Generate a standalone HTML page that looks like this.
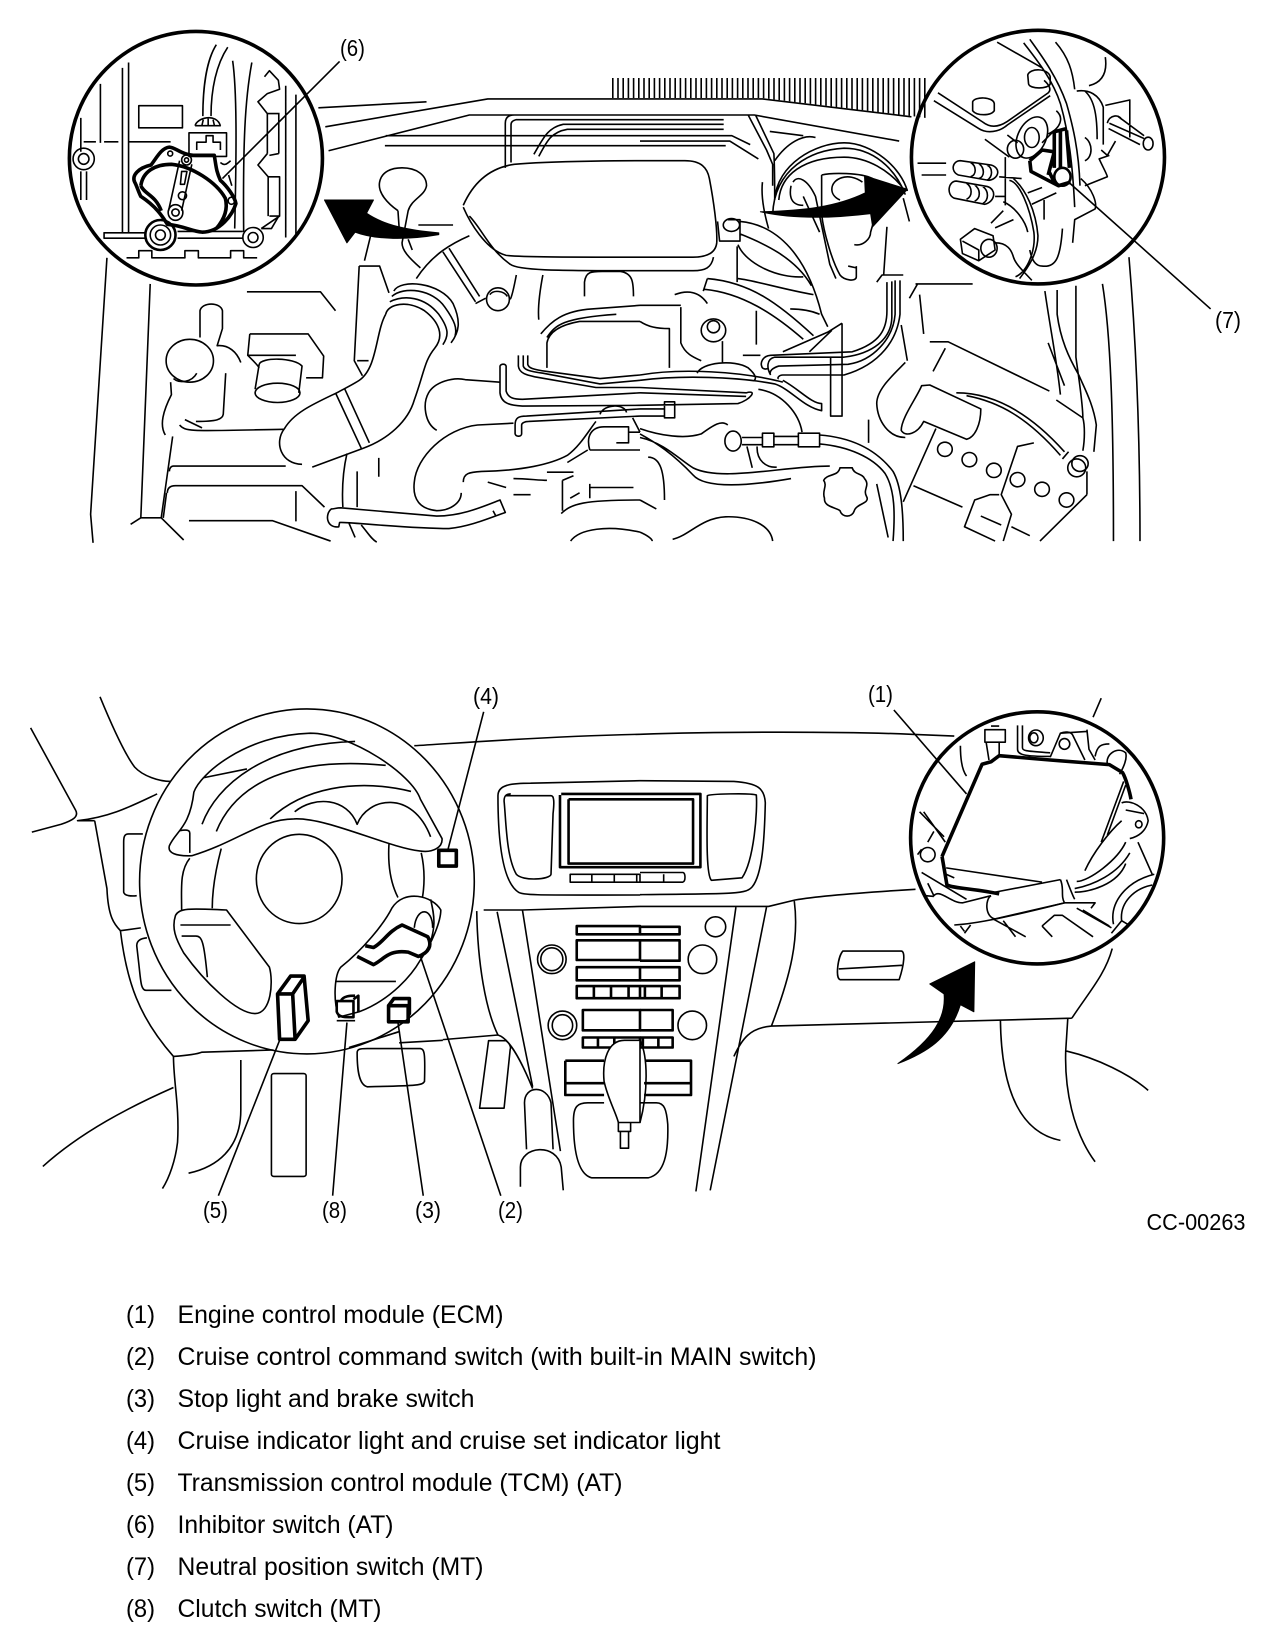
<!DOCTYPE html>
<html><head><meta charset="utf-8"><style>
html,body{margin:0;padding:0;background:#fff}
svg{display:block}
path,ellipse,rect{vector-effect:non-scaling-stroke;fill:none;stroke:#000;stroke-width:1.6;stroke-linejoin:round}
.t{stroke-width:3.6}
.m{stroke-width:2.6}
.f{fill:#000;stroke:#000;stroke-width:1}
text{font-family:"Liberation Sans",sans-serif;fill:#000}
</style></head><body>
<svg width="1280" height="1650" viewBox="0 0 1280 1650" xmlns="http://www.w3.org/2000/svg">
<defs><clipPath id="sl"><polygon points="612,78 926,78 926,118 911,116 762,98 612,98"/></clipPath></defs>
<path clip-path="url(#sl)" d="M612 100H926" style="stroke-width:46;stroke-dasharray:1.6 3.6"/>

<!-- ENGINE LEFT -->
<g transform="translate(0,0) scale(.40816,.35714)">
<ellipse class="t" cx="480" cy="443" rx="310" ry="355"/>
<path d="M315 175V650M300 190V650M246 235V400M198 330V425M198 480V560M212 480V560M205 397H235M255 397H290M315 397H418M340 296H447V358H340ZM530 125C505 170 497 250 497 325M558 132C530 180 517 250 517 325M478 352C482 330 530 315 540 352M478 352H541M463 372H555V438H463ZM482 420V398H505V380H522V398H540V420M495 350L498 335M510 350V332M525 350L522 335M570 170C580 250 580 400 575 640M617 175C600 280 595 400 597 650"/>
<path d="M648 215L660 198L682 225L685 250L655 262L632 285L655 318H685M655 318V430M683 318V430M655 430L632 462L657 495V605M683 430L660 435M657 495H685V605L640 640M660 605H683L665 640H640M700 240V665M725 265V660M255 650V667H355M435 667H595M255 652H355M435 648H595"/>
<ellipse cx="393" cy="658" rx="37" ry="42" class="m"/><ellipse cx="393" cy="658" rx="25" ry="28"/><ellipse cx="393" cy="658" rx="12" ry="14"/>
<ellipse cx="620" cy="665" rx="25" ry="28"/><ellipse cx="620" cy="665" rx="12" ry="14"/>
<ellipse cx="205" cy="445" rx="26" ry="30"/><ellipse cx="205" cy="445" rx="13" ry="15"/>
<path d="M310 722H340V702H372V722H453V702H486V722H565V702H597V722H630"/>
<path class="t" d="M330 510C322 490 340 470 370 462C385 440 395 415 415 412C430 412 445 435 480 435H525C530 470 530 480 540 505C555 520 575 550 578 570C570 600 540 650 495 650C470 648 450 632 410 628C400 610 385 580 345 550C340 540 335 520 330 510Z"/>
<path class="t" d="M345 520C350 480 380 460 420 460C470 465 530 510 552 555C560 590 545 620 530 640M345 520C355 545 380 545 395 590"/>
<path d="M440 450L413 590M470 460L445 590M445 480H458L452 516H442ZM540 455C550 465 555 460 565 450M560 490L568 520"/>
<ellipse cx="430" cy="595" rx="18" ry="22"/><ellipse cx="430" cy="595" rx="9" ry="10"/><ellipse cx="457" cy="448" rx="12" ry="14"/><ellipse cx="457" cy="448" rx="5" ry="6"/><ellipse cx="447" cy="548" rx="10" ry="11"/><ellipse cx="417" cy="430" rx="6" ry="7"/><ellipse cx="567" cy="562" rx="8" ry="10"/>
<path d="M832 172L545 500"/>
<path d="M780 302L1045 285M797 355L1195 277H1568M805 422L1150 322H1568M945 380H1568M943 408H1568M1238 470V345C1238 330 1245 322 1260 322M1252 455V350C1252 342 1255 338 1265 335H1568M1308 432C1330 390 1340 358 1380 348H1568M1320 438C1340 395 1350 370 1390 362H1568"/>
<path d="M1135 575C1160 510 1200 470 1260 460C1350 450 1568 450 1568 450M1135 580C1150 620 1190 700 1240 715C1270 720 1400 720 1568 720M1150 605C1180 640 1200 700 1250 740C1270 757 1350 758 1568 758"/>
<path d="M1150 660C1110 680 1060 710 1020 780M1085 705L1165 845M1100 695L1175 830M1165 850L1190 835M965 815C980 780 1080 790 1110 850C1130 900 1125 930 1105 960M960 830C990 800 1060 810 1090 860C1115 900 1120 920 1115 940M955 845C990 825 1040 830 1075 880C1100 920 1100 940 1085 965M945 880C950 850 1000 840 1040 870C1075 900 1090 940 1065 975M945 880C920 930 925 1030 880 1065C860 1080 840 1090 825 1100C770 1130 720 1155 697 1200C670 1240 690 1300 740 1300M1065 975C1040 1010 1040 1040 1015 1120C1000 1180 950 1230 890 1255L765 1308M822 1100L885 1255M845 1090L905 1240"/>
<ellipse cx="1220" cy="838" rx="28" ry="32"/>
<path d="M1200 825C1210 810 1235 815 1243 830M1265 770C1260 800 1255 830 1250 838M1330 770C1320 830 1318 870 1320 895M1432 830V790C1435 760 1450 760 1475 760H1520C1550 765 1552 790 1552 830"/>
<path d="M975 590C950 570 925 540 930 510C935 480 960 470 985 470C1020 470 1045 490 1045 520C1040 550 1010 555 1000 590L985 680C985 700 1000 720 1030 750M975 590L978 640M1000 670L1010 700M1025 630H1110"/>
<path class="f" d="M795 560L915 560L898 597C940 630 1000 645 1075 652L1075 657C1000 672 920 672 870 650L850 680Z"/>
<path d="M262 722L222 1440L228 1520M368 795L345 1450M345 1450L320 1468M345 1450H395L450 1512M395 1450L423 1222M605 817H785L822 870M893 730L908 660M880 745H930L953 820M880 745L868 1010L888 1052M875 1010H903"/>
<ellipse cx="465" cy="1010" rx="58" ry="60"/>
<path d="M490 945V870C495 845 540 845 545 870L545 920L532 968C560 965 580 985 590 1015M425 1060C440 1075 470 1070 482 1045M418 1070L420 1105C400 1150 390 1190 405 1218M553 1045L547 1160C545 1175 530 1180 480 1180M453 1175L495 1198M440 1190C455 1210 470 1207 695 1202"/>
<path d="M612 935H755L793 997L790 1058H750M612 935L607 995H725M607 995C620 1010 630 1020 635 1030M635 1020C640 1000 720 1000 740 1025L732 1100M635 1020L625 1090"/>
<ellipse cx="680" cy="1100" rx="55" ry="27"/>
<path d="M425 1305H700M415 1320C415 1310 420 1305 425 1305M410 1380C410 1365 418 1360 430 1360H740L795 1420M408 1380L400 1450M725 1375V1460M463 1458H668L810 1515M928 1282V1335M850 1270C838 1330 838 1380 840 1420M875 1320V1420"/>
<path d="M812 1425C795 1440 800 1480 830 1475L832 1463C840 1460 1000 1480 1100 1480C1150 1475 1200 1450 1238 1435L1225 1400C1180 1420 1130 1445 1070 1445L835 1422C825 1422 818 1425 812 1425ZM1208 1430L1215 1445M855 1465L870 1505M885 1470C900 1490 910 1510 923 1518"/>
<path d="M1070 1205C1040 1185 1035 1130 1050 1100C1065 1070 1110 1055 1140 1063L1225 1070M1130 1380C1130 1410 1100 1430 1070 1430C1030 1425 1010 1400 1015 1350C1020 1280 1090 1200 1170 1190L1258 1185M1135 1350C1135 1325 1150 1322 1180 1320C1280 1318 1350 1300 1390 1275C1420 1250 1440 1210 1460 1180"/>
<path d="M1225 1070V1025C1228 1018 1238 1018 1240 1025V1095C1245 1115 1260 1118 1280 1118L1568 1100M1225 1070V1100C1228 1130 1250 1135 1280 1137L1568 1135M1270 995V1025C1272 1045 1290 1050 1310 1055L1460 1085L1568 1085M1282 995V1025C1285 1035 1295 1040 1330 1045L1470 1075L1568 1065M1293 995V1020C1295 1030 1305 1035 1340 1040L1470 1060L1568 1050M1340 1030V960C1345 930 1370 910 1420 900L1568 900M1325 935C1350 900 1380 870 1450 865L1568 855M1340 945C1360 910 1380 890 1510 880"/>
<path d="M1262 1190C1262 1170 1270 1165 1290 1165L1568 1145M1262 1190V1215C1265 1225 1278 1222 1278 1215V1190C1278 1185 1285 1180 1295 1180L1568 1165M1470 1160C1480 1130 1530 1130 1535 1155M1445 1260C1435 1220 1450 1195 1480 1195H1540V1240H1510M1445 1260H1568M1550 1170L1568 1210M1540 1210H1568M1390 1295L1440 1260M1258 1340C1290 1340 1320 1345 1340 1345M1340 1322H1405M1195 1350L1240 1365M1258 1385H1300M1378 1345V1430M1378 1345L1405 1332M1375 1438C1400 1410 1430 1400 1568 1400M1445 1355V1395M1445 1365H1552M1397 1395L1420 1380M1398 1515C1420 1480 1490 1470 1568 1490"/>
</g>

<!-- ENGINE RIGHT -->
<g transform="translate(640,0) scale(.40816,.35714)">
<ellipse class="t" cx="975" cy="440" rx="310" ry="355"/>
<path d="M0 277H300L665 327M0 322H280L635 395M0 335H205M0 348H205M0 362H205M0 380H225L270 405M0 395H220L290 445M0 408H210M265 322L310 420L325 460V520M283 322L328 430C330 470 330 520 330 560M318 368L400 380M330 450C360 400 400 375 430 385"/>
<path d="M330 560C335 460 430 400 500 400C570 400 640 470 655 535M325 600C330 470 420 420 500 415C570 415 625 470 650 545M340 560C345 490 400 440 500 440C560 440 610 480 640 520M300 510C295 560 310 620 315 640M375 510C385 490 410 500 430 550L465 740L480 780M370 520C365 550 370 575 400 575M400 550L440 650M445 490C470 483 540 483 570 500M445 490V600C450 650 470 730 490 770C500 785 530 790 530 775V745M510 745L530 750M525 685C545 690 565 670 565 650L570 630M470 530C470 500 510 480 545 510M490 560C480 555 470 545 470 530"/>
<path class="f" d="M295 593C400 590 480 580 552 540L550 492L655 530L570 635L565 598C480 610 380 615 295 593Z"/>
<path d="M645 555L660 620M605 635L597 770M580 790L593 770H645M605 790V870C605 920 590 960 520 985L320 995C300 997 295 1015 298 1025C300 1035 310 1035 315 1030M617 788V890C615 950 570 990 500 1000H330C310 1005 310 1030 320 1050M625 785V880C620 950 570 1010 510 1020L340 1025C325 1030 315 1040 320 1050M637 785V880C630 950 590 1020 500 1050H350C340 1050 335 1060 340 1060"/>
<path d="M675 795H815M660 835L680 795M685 825L695 935M640 910L655 1010M650 1015C620 1050 580 1090 580 1130C582 1180 610 1225 650 1225M710 957H755L1003 1095M748 975L718 1040M690 1080L710 1078L835 1145C835 1190 820 1225 800 1230L695 1180C680 1215 650 1225 640 1205C640 1170 680 1110 690 1080ZM775 1100C860 1100 950 1150 1040 1265M800 1108C880 1125 950 1170 1030 1275M725 1200L645 1405M670 1360L790 1420M560 1175V1240"/>
<ellipse cx="747" cy="1258" rx="18" ry="20"/><ellipse cx="807" cy="1287" rx="18" ry="20"/><ellipse cx="867" cy="1317" rx="18" ry="20"/><ellipse cx="925" cy="1343" rx="18" ry="20"/><ellipse cx="985" cy="1370" rx="18" ry="20"/><ellipse cx="1045" cy="1400" rx="18" ry="20"/>
<path d="M965 1240L925 1250L885 1385L910 1440L890 1515M880 1385H858L820 1400L795 1475L870 1515M835 1445L885 1470M910 1475L955 1500M1095 1385L980 1515M1095 1320V1385"/>
<ellipse cx="1078" cy="1298" rx="20" ry="22"/><ellipse cx="1070" cy="1310" rx="22" ry="25"/>
<path d="M1050 1265L1035 1285M992 815C1005 920 1020 1000 1030 1105M1022 812V880C1030 950 1050 1000 1075 1050C1090 1090 1110 1130 1118 1190L1112 1265M1068 800V1000C1075 1060 1085 1130 1085 1170M1020 1120L1085 1170M1085 1170C1090 1190 1090 1230 1085 1262M1133 795C1155 950 1160 1200 1160 1515M1198 720C1215 950 1225 1200 1225 1515M1000 960L1040 1080M1398 865L1050 510"/>
<path d="M215 615H245V675H195L190 620M245 620C340 630 410 720 445 880L460 915M245 655C300 680 380 720 420 800M240 685C260 740 340 780 400 775M238 690V790M165 780L155 815M85 825C115 812 145 815 165 850M0 855H100M100 860V960C110 990 130 1000 150 1010M165 780C270 790 340 850 425 940M158 810C250 820 330 880 400 950M285 870V965M368 865C400 865 420 870 440 880M240 780C280 785 350 810 425 825M495 905V1165H467V1000M495 905L460 930L350 985M470 925L415 985"/>
<ellipse cx="224" cy="630" rx="20" ry="18"/><ellipse cx="180" cy="925" rx="30" ry="32"/><ellipse cx="180" cy="915" rx="15" ry="17"/>
<path d="M0 450H110C150 450 165 470 170 500C180 560 190 640 188 680C185 710 160 720 130 720H0M0 758H130C160 758 175 750 180 720"/>
<path d="M202 955V1015M0 900C20 915 40 920 72 920V1030M252 995H295M140 1045C150 1015 230 1005 265 1030C285 1050 285 1060 280 1065M0 1050C100 1030 250 1040 350 1070M0 1065C100 1050 240 1055 330 1075C370 1090 400 1140 445 1150V1130C420 1130 390 1090 350 1065M0 1085L260 1100C290 1090 270 1120 240 1130L0 1135M0 1100L260 1110M290 1090C350 1100 390 1160 397 1210M60 1125H85V1170H60ZM0 1145H60M0 1165H60"/>
<ellipse cx="228" cy="1235" rx="20" ry="28"/>
<path d="M250 1225H300V1245H250M300 1213H328V1251H300ZM328 1222H388M328 1245H388M388 1213H440V1251H388ZM440 1218C520 1225 580 1260 620 1320C640 1360 645 1430 645 1515M440 1243C510 1250 570 1280 600 1325C625 1370 625 1440 620 1515M580 1355L608 1505M262 1250L275 1310M287 1250C285 1290 310 1310 335 1308M0 1215C40 1240 80 1270 130 1330C160 1370 270 1360 370 1340M0 1225C60 1240 100 1290 130 1310C200 1350 350 1305 465 1305M0 1200C50 1220 110 1230 150 1215C180 1190 200 1175 215 1190M20 1280C50 1280 60 1320 60 1400M0 1400L40 1425M490 1310H520C525 1330 545 1325 550 1340C565 1360 545 1370 555 1390C565 1410 530 1410 525 1430C520 1450 495 1450 490 1430C480 1420 450 1420 452 1395C445 1375 460 1360 450 1345C460 1325 485 1335 490 1310ZM80 1510C120 1500 150 1450 210 1447C270 1445 320 1470 325 1515M0 1490C20 1500 30 1510 30 1515"/>
<path d="M875 118L985 190M730 260L840 342C860 360 880 355 900 340L1000 260C1010 250 1000 235 990 225M720 282L830 360C850 375 880 370 900 350L1005 268M955 110C980 150 1020 210 1045 290C1060 350 1075 420 1078 520M940 120C970 165 1010 220 1030 290C1050 370 1060 460 1065 580M1018 118C1050 160 1060 200 1065 250M950 210C955 190 1000 190 1005 215V235C1000 250 955 250 952 235ZM815 285C820 270 865 270 868 290V310C860 325 825 325 815 310ZM1140 160C1145 200 1135 230 1100 240M1070 255C1100 250 1125 265 1135 300V405M1090 255C1115 280 1120 330 1120 390M1140 295L1200 280V385M1170 325L1235 380M1145 345C1150 320 1175 320 1180 335M1150 345L1235 388M1148 360L1225 405M1130 420L1145 435L1165 395M1150 435L1125 445C1135 470 1145 490 1145 495L1090 520M1090 385C1110 400 1110 440 1090 450M1080 500C1110 530 1120 570 1115 585L1065 615L1060 680M1035 640C1030 720 1020 750 985 745C970 745 960 730 955 700M845 390L905 440M900 378L925 400M1020 310C1040 330 1030 360 1000 375M985 400L1020 360"/>
<ellipse cx="1245" cy="402" rx="12" ry="18"/><ellipse cx="960" cy="385" rx="35" ry="60" transform="rotate(20 960 385)"/><ellipse cx="920" cy="418" rx="20" ry="25"/><ellipse cx="960" cy="385" rx="18" ry="28"/>
<path class="t" d="M955 450L985 420L1015 425L1000 490M955 450L958 480L1025 520L1055 510M1015 370V470M1030 365V470M1045 365L1052 470M1012 370L1045 360M1002 480L1015 510"/>
<ellipse cx="1035" cy="495" rx="20" ry="25" class="m"/>
<path d="M785 450L860 462C885 470 880 500 855 505L780 490C760 480 765 450 785 450ZM810 455C825 465 825 490 810 495M830 458C845 470 845 495 830 500M850 462C865 470 865 495 850 505M775 507L850 522C875 530 870 565 845 572L770 555C750 545 755 507 775 507ZM800 513C815 525 815 550 800 558M820 518C835 530 835 555 820 563M840 522C855 535 855 560 840 570M880 495L935 500M870 550H895M680 457H750M690 490H750M895 440V575"/>
<path d="M905 505C930 510 955 580 965 650C970 700 950 760 920 775M915 500C945 530 970 590 975 660C975 710 950 750 930 780M890 565C920 580 945 620 950 650M785 670L820 640L865 660L870 700L830 730L790 710ZM790 675L830 700V730M870 638L915 615M890 590L860 625M870 680C900 680 910 700 915 720C920 740 940 760 960 785M950 540L985 525M960 572L1020 540M990 560V615"/>
<ellipse cx="855" cy="695" rx="20" ry="25"/>
</g>

<!-- DASH LEFT -->
<g transform="translate(0,660) scale(.40816,.35714)">
<ellipse cx="752" cy="620" rx="410" ry="483"/><ellipse cx="733" cy="613" rx="105" ry="125"/>
<path d="M415 520C430 480 465 470 475 370C490 320 600 210 760 205C860 205 1010 320 1030 390L1083 500C1085 525 1060 540 1030 535C950 525 800 440 720 445C640 445 580 510 470 548C430 550 410 540 415 520ZM495 460C530 350 650 235 870 228M530 480C580 340 720 270 945 295M497 330L605 305M662 445C740 360 870 330 1007 368M722 425C770 380 850 385 875 460C900 385 1010 360 1055 495M465 540V485C465 475 455 475 440 478M542 528C530 580 520 640 520 695M465 555C440 590 445 640 445 700M430 715C440 695 460 695 555 700L660 860C670 900 665 990 625 990C580 990 500 900 450 820C430 780 420 750 430 715ZM442 742H565M445 773H480C495 773 500 790 508 888M953 515C950 570 955 620 975 665M1032 540C1042 590 1040 630 1035 665M960 695C990 640 1060 660 1080 700C1080 730 1060 790 1030 840C1010 880 960 950 880 985L830 1000C815 950 820 880 835 860C890 810 940 740 960 695ZM1055 670C1065 720 1070 750 1045 820M1015 750C1020 690 1060 690 1060 750M822 900H970"/>
<path class="t" d="M875 830L915 853C940 840 950 810 1000 818L1025 830C1050 820 1060 800 1048 775L985 742C950 760 940 790 915 805L895 800"/>
<path class="t" d="M680 935L712 885H745L755 1010L723 1062H685ZM680 935H717L723 1062M717 935L745 888"/>
<path class="m" d="M825 955H866V1000C850 1000 830 1003 825 985ZM835 955C840 940 860 940 870 940M866 950L878 940V985"/><path d="M825 1010H870"/>
<path class="t" d="M952 968H1000V1013H952ZM952 968L965 948H1003V990L1000 995"/>
<rect class="t" x="1075" y="533" width="43" height="44"/>
<path d="M1185 145L1097 533M1030 830L1227 1500M975 1015L1037 1500M850 1015L815 1500M685 1065L535 1500"/>
<path d="M245 103C280 200 310 270 330 300C350 325 390 340 418 340M75 190L185 420C195 440 175 450 150 460L78 482M385 375C320 410 270 440 190 450H232M232 450L262 640C265 720 280 740 295 758L345 750M295 758C310 900 340 1000 425 1110C425 1180 440 1250 435 1350C430 1400 415 1450 398 1480M425 1110C450 1108 480 1105 495 1098L670 1092M425 1197C320 1250 200 1320 105 1418M590 1120V1260C590 1370 530 1420 462 1437M350 487H315C305 487 303 495 303 510V650C305 660 320 662 335 660M420 925H358C345 925 345 900 340 850L335 800C335 785 345 780 360 778"/>
<rect x="665" y="1158" width="85" height="288" rx="6"/>
<path d="M875 1100C875 1090 880 1088 900 1088H1030C1040 1090 1042 1100 1040 1180C1035 1190 1030 1192 900 1195C880 1190 875 1150 875 1100ZM1015 240C1100 235 1300 215 1568 208M855 1085C900 1070 950 1050 980 1040M978 1072L1085 1065M1085 1063L1220 1050C1250 1060 1280 1130 1305 1200M1168 703C1170 850 1190 980 1220 1050M1218 705L1305 1195M1280 700L1373 1375M1185 700H1280L1568 690M1197 1066H1240C1250 1075 1252 1085 1250 1090L1235 1255H1175ZM1275 1475V1420C1275 1360 1365 1350 1375 1420L1380 1485M1290 1370L1285 1240C1285 1190 1340 1190 1350 1240L1355 1370"/>
<path d="M1220 380C1220 350 1250 345 1300 345L1568 338M1220 380C1220 500 1230 620 1270 650C1280 660 1340 658 1568 658M1240 380H1350C1358 380 1358 400 1355 430L1350 600C1348 615 1280 620 1265 600C1240 550 1240 450 1235 395C1235 380 1240 375 1250 375Z"/>
<path class="m" d="M1375 375H1568M1372 378V580H1568M1393 390H1568M1393 390V570H1568"/>
<path d="M1397 600H1568V622H1397ZM1450 600V620M1505 600V620M1560 600V620"/>
<path class="m" d="M1413 745H1568V768H1413ZM1413 785H1568V840H1413ZM1413 860H1568V897H1413ZM1413 913H1568V947H1413ZM1455 913V947M1497 913V947M1540 913V947M1428 980H1568V1037H1428ZM1428 1057H1568V1085H1428ZM1465 1057V1085M1505 1057V1085M1385 1122H1480M1385 1122V1218H1480M1385 1185H1480"/>
<ellipse cx="1352" cy="838" rx="35" ry="40"/><ellipse cx="1352" cy="838" rx="27" ry="32"/><ellipse cx="1378" cy="1023" rx="35" ry="40"/><ellipse cx="1378" cy="1023" rx="25" ry="30"/>
<path style="fill:#fff" d="M1530 1065C1490 1065 1475 1120 1480 1180C1490 1230 1510 1270 1515 1295H1568V1065Z"/>
<path d="M1515 1295V1320H1545V1295M1520 1320V1367H1540V1320M1405 1290C1405 1250 1415 1240 1440 1240H1480M1405 1290C1405 1370 1415 1440 1450 1450H1568"/>
</g>

<!-- DASH RIGHT -->
<g transform="translate(640,660) scale(.40816,.35714)">
<path d="M0 1065C20 1110 20 1210 0 1295M0 1240H40C60 1240 65 1260 68 1300C70 1380 60 1440 20 1450H0M0 208C200 200 500 200 665 208L770 213M0 338L230 340C290 345 305 360 307 400C305 500 300 600 275 635C260 655 240 655 0 657M165 380C170 375 270 372 285 378C288 420 280 560 250 610L175 617C160 600 165 450 165 380ZM0 595H105C112 595 112 620 105 622H0M58 600V620M0 690H315L380 672C440 660 560 650 675 642"/>
<path class="m" d="M0 375H148V580H0M0 390H130V570H0M0 747H97V768H0M0 785H97V842H0M0 860H97V897H0M0 913H97V947H0M12 913V947M53 913V947M0 980H80V1037H0M0 1057H80V1085H0M7 1057V1085M45 1057V1085M14 1122H125V1218H10M10 1185H125"/>
<ellipse cx="185" cy="747" rx="25" ry="28"/><ellipse cx="153" cy="838" rx="35" ry="40"/><ellipse cx="128" cy="1023" rx="35" ry="40"/>
<path d="M235 692L137 1488M310 692L172 1485M378 675C390 780 370 880 322 1025M322 1025C270 1030 250 1060 230 1110M322 1025L1058 1003M1058 1003C1100 930 1140 880 1157 808M497 815H640C650 815 648 850 635 895H490C478 890 485 830 497 815ZM487 865L642 855"/>
<path class="f" d="M632 1130C720 1060 750 1000 745 935L710 907L820 845L818 985L785 965C760 1060 700 1100 632 1130Z"/>
<path d="M883 1008C885 1180 920 1320 1030 1345M1048 1005L1043 1095C1040 1200 1060 1320 1115 1405M1045 1095C1120 1115 1200 1160 1245 1205M1130 107L1110 160"/>
<ellipse class="t" cx="973" cy="498" rx="310" ry="353"/>
<path d="M622 140L800 375"/>
<path class="t" d="M740 550L838 292L860 285L880 268L1005 280L1150 293L1182 315C1190 330 1200 370 1203 390M740 550L752 630C770 640 820 640 880 655"/>
<path d="M750 582L985 622M750 600L770 610M860 660C845 670 845 720 870 725L1040 680M870 650L1030 615M1030 615C1040 640 1030 660 1040 680H1070M1045 615C1050 630 1060 660 1065 670M1070 620C1100 620 1170 560 1190 510M1065 640C1110 630 1170 600 1200 540M1065 650C1100 650 1170 630 1190 570M1090 590C1110 540 1150 480 1180 450M1130 510L1185 340M1145 490L1190 350M1180 400C1200 390 1240 410 1245 450C1240 480 1220 495 1200 500M1190 420L1235 430M1040 680H1115L1105 695M1220 510L1255 600"/>
<ellipse cx="1222" cy="460" rx="8" ry="10"/>
<path d="M845 195H895V230H845ZM860 185H880M848 230L855 280M880 230V265M925 183V250C925 265 940 270 1005 270M937 183V245C937 255 945 255 1005 260M1005 272L1030 205L1095 200M1030 205C1040 200 1055 200 1060 210L1090 280M1095 195L1100 250L1115 280M1115 270C1120 240 1130 235 1150 235M1145 290C1140 265 1170 240 1190 260C1195 280 1180 310 1175 320"/>
<ellipse cx="970" cy="218" rx="18" ry="22"/><ellipse cx="965" cy="218" rx="10" ry="14"/><ellipse cx="1040" cy="235" rx="13" ry="15"/><ellipse cx="705" cy="545" rx="18" ry="20"/>
<path d="M785 240C785 280 790 310 800 325M685 425L745 495M695 425L748 510M720 480L705 510M680 545L690 530M690 595L800 670M705 625L720 660C735 640 760 680 790 680L860 660M720 662L700 660M770 742C800 740 850 735 1040 680M785 745L795 760M810 742L795 765M865 725L945 775M890 730L920 775M985 745L1015 715H1035L1110 775M985 745L1010 775M1070 695L1155 750M1085 700L1150 745M1155 765L1180 730L1195 740M1160 740C1150 680 1190 620 1260 600M1180 730C1175 680 1210 640 1255 630"/>
</g>

<!-- LABELS -->
<g font-size="23">
<text x="340" y="56" textLength="25" lengthAdjust="spacingAndGlyphs">(6)</text>
<text x="1215" y="328" textLength="26" lengthAdjust="spacingAndGlyphs">(7)</text>
<text x="473" y="704" textLength="26" lengthAdjust="spacingAndGlyphs">(4)</text>
<text x="868" y="702" textLength="25" lengthAdjust="spacingAndGlyphs">(1)</text>
<text x="203" y="1218" textLength="25" lengthAdjust="spacingAndGlyphs">(5)</text>
<text x="322" y="1218" textLength="25" lengthAdjust="spacingAndGlyphs">(8)</text>
<text x="415" y="1218" textLength="26" lengthAdjust="spacingAndGlyphs">(3)</text>
<text x="498" y="1218" textLength="25" lengthAdjust="spacingAndGlyphs">(2)</text>
<text x="1146.5" y="1230" textLength="99" lengthAdjust="spacingAndGlyphs">CC-00263</text>
</g>
<g font-size="25">
<text x="126" y="1323" textLength="29" lengthAdjust="spacingAndGlyphs">(1)</text><text x="177.5" y="1323" textLength="326" lengthAdjust="spacingAndGlyphs">Engine control module (ECM)</text>
<text x="126" y="1365" textLength="29" lengthAdjust="spacingAndGlyphs">(2)</text><text x="177.5" y="1365" textLength="639" lengthAdjust="spacingAndGlyphs">Cruise control command switch (with built-in MAIN switch)</text>
<text x="126" y="1407" textLength="29" lengthAdjust="spacingAndGlyphs">(3)</text><text x="177.5" y="1407" textLength="297" lengthAdjust="spacingAndGlyphs">Stop light and brake switch</text>
<text x="126" y="1449" textLength="29" lengthAdjust="spacingAndGlyphs">(4)</text><text x="177.5" y="1449" textLength="543" lengthAdjust="spacingAndGlyphs">Cruise indicator light and cruise set indicator light</text>
<text x="126" y="1491" textLength="29" lengthAdjust="spacingAndGlyphs">(5)</text><text x="177.5" y="1491" textLength="445" lengthAdjust="spacingAndGlyphs">Transmission control module (TCM) (AT)</text>
<text x="126" y="1533" textLength="29" lengthAdjust="spacingAndGlyphs">(6)</text><text x="177.5" y="1533" textLength="216" lengthAdjust="spacingAndGlyphs">Inhibitor switch (AT)</text>
<text x="126" y="1575" textLength="29" lengthAdjust="spacingAndGlyphs">(7)</text><text x="177.5" y="1575" textLength="306" lengthAdjust="spacingAndGlyphs">Neutral position switch (MT)</text>
<text x="126" y="1617" textLength="29" lengthAdjust="spacingAndGlyphs">(8)</text><text x="177.5" y="1617" textLength="204" lengthAdjust="spacingAndGlyphs">Clutch switch (MT)</text>
</g>
</svg>
</body></html>
